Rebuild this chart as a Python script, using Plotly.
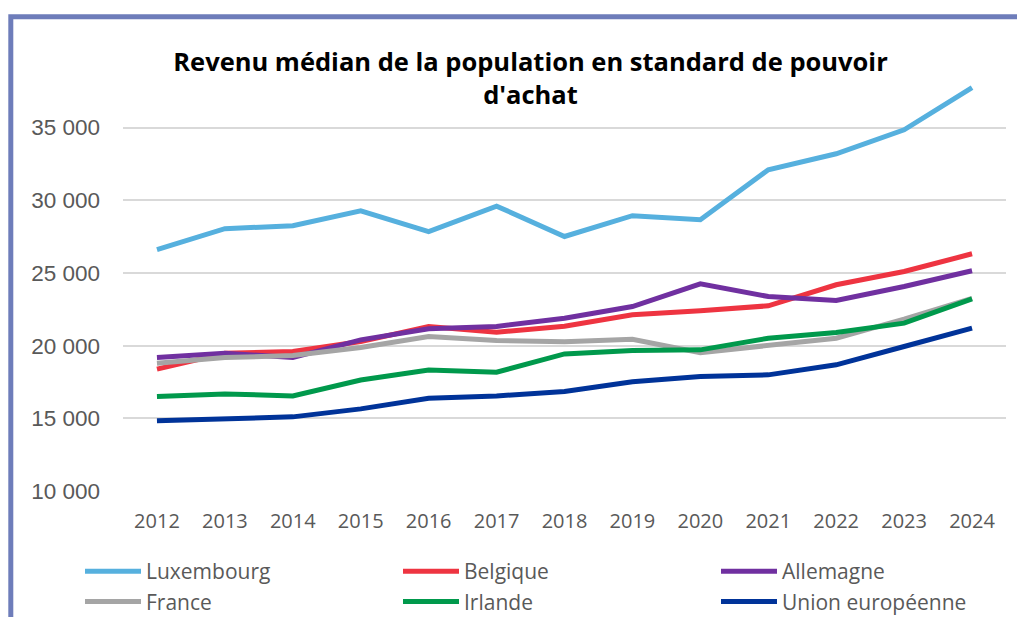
import plotly.graph_objects as go

years = [2012, 2013, 2014, 2015, 2016, 2017, 2018, 2019, 2020, 2021, 2022, 2023, 2024]
year_labels = [str(y) for y in years]

luxembourg = [26600, 28050, 28250, 29280, 27850, 29600, 27510, 28940, 28660, 32100, 33200, 34850, 37750]
belgique = [18380, 19480, 19600, 20280, 21310, 20930, 21330, 22120, 22400, 22740, 24190, 25100, 26320]
allemagne = [19180, 19480, 19180, 20400, 21160, 21320, 21890, 22690, 24250, 23380, 23110, 24070, 25150]
france = [18790, 19180, 19320, 19870, 20630, 20350, 20260, 20440, 19520, 20050, 20510, 21820, 23250]
irlande = [16500, 16680, 16540, 17640, 18330, 18170, 19430, 19660, 19710, 20510, 20900, 21550, 23220]
union_europeenne = [14840, 15000, 15100, 15650, 16380, 16540, 16840, 17510, 17870, 17990, 18680, 19940, 21200]

series_names = ["Luxembourg", "Belgique", "Allemagne", "France", "Irlande", "Union européenne"]
series_values = [luxembourg, belgique, allemagne, france, irlande, union_europeenne]
series_colors = ["#56B0DE", "#EE3441", "#7030A0", "#A5A5A5", "#00994C", "#003399"]

y_tickvals = [10000, 15000, 20000, 25000, 30000, 35000]

title_text = "Revenu médian de la population en standard de pouvoir<br>d'achat"

# page has an 8px body margin: figure is sized so it fills the 1025x617 window
OFF = 8
W, H = 1025 - OFF, 617 - OFF
ml, mr, mt, mb = 123 - OFF, 19, 84 - OFF, 126
pw, ph = W - ml - mr, H - mt - mb

fig = go.Figure()
for name, vals, col in zip(series_names, series_values, series_colors):
    fig.add_trace(go.Scatter(
        x=year_labels, y=vals, name=name, mode="lines",
        line=dict(color=col, width=5),
    ))

# frame border (partial card edge at top/left), page coords (10.8, 16.8)
fig.add_shape(type="rect", xref="paper", yref="paper",
              x0=(10.8 - OFF - ml) / pw, x1=(1060 - ml) / pw,
              y0=(H - mb - 660) / ph, y1=(H - mb - (16.8 - OFF)) / ph,
              line=dict(color="#6E7DBA", width=5), fillcolor="rgba(0,0,0,0)", layer="below")

fig.update_layout(
    width=W, height=H,
    margin=dict(l=ml, r=mr, t=mt, b=mb, autoexpand=False),
    paper_bgcolor="white", plot_bgcolor="white",
    separators=", ",
    title=dict(text=title_text, x=(530.5 - OFF) / W, xanchor="center", xref="container",
               y=1 - 63 / H, yanchor="top", yref="container",
               font=dict(family="Open Sans", size=25.5, color="#000000", weight="bold")),
    xaxis=dict(type="category", range=[-0.5, len(years) - 0.5], showgrid=False, showline=False,
               zeroline=False, ticks="", ticklabelstandoff=16, tickangle=0,
               tickfont=dict(family="Open Sans", size=20, color="#595959")),
    yaxis=dict(range=[10000, 38000], tickvals=y_tickvals, tickformat=",d",
               showgrid=True, gridcolor="#D9D9D9", gridwidth=1.5, zeroline=False, showline=False,
               ticks="", ticklabelstandoff=22,
               tickfont=dict(family="Liberation Sans", size=22.5, color="#595959")),
    legend=dict(orientation="h", x=(80 - OFF - ml) / pw, xanchor="left",
                y=(H - mb - (551 - OFF)) / ph, yanchor="top",
                entrywidth=247, entrywidthmode="pixels", itemwidth=56,
                font=dict(family="Open Sans", size=21, color="#595959"),
                tracegroupgap=0, bgcolor="rgba(0,0,0,0)"),
    showlegend=True,
)

fig.write_html("out.html")
